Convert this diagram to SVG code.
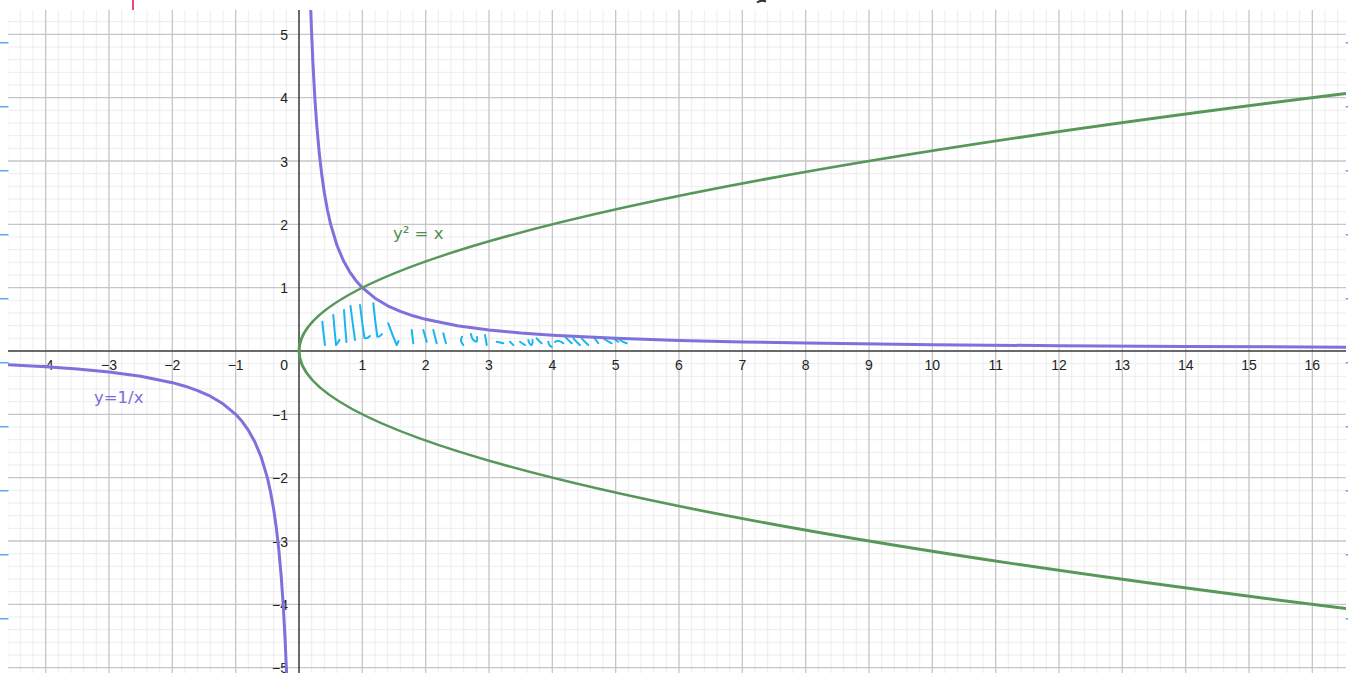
<svg xmlns="http://www.w3.org/2000/svg" width="1348" height="673" viewBox="0 0 1348 673">
<style>
.minor{stroke:#ededed;stroke-width:1;fill:none}
.major{stroke:#c6c6c6;stroke-width:1.3;fill:none}
.axis{stroke:#3a3a3a;stroke-width:1.5;fill:none}
.tick{stroke:#5aaaf0;stroke-width:1.5}
.lbl{font-family:"Liberation Sans",Arial,sans-serif;font-size:14px;fill:#222}
.lx{text-anchor:middle}
.ly{text-anchor:end}
.purple{stroke:#7f70dc;stroke-width:3;fill:none;stroke-linejoin:round;stroke-linecap:round}
.green{stroke:#57985a;stroke-width:3;fill:none}
.hatch{stroke:#19b4f2;stroke-width:2;fill:none;stroke-linecap:round;stroke-linejoin:round}
.clbl{font-family:"DejaVu Sans",sans-serif;font-size:16.5px}
</style>
<defs>
<clipPath id="plot"><rect x="8" y="10" width="1338" height="663"/></clipPath>
</defs>
<rect width="1348" height="673" fill="#ffffff"/>
<g id="grid" clip-path="url(#plot)">
<path class="minor" d="M7.67 10V673M20.33 10V673M33 10V673M58.33 10V673M71 10V673M83.67 10V673M96.33 10V673M121.67 10V673M134.33 10V673M147 10V673M159.67 10V673M185 10V673M197.67 10V673M210.33 10V673M223 10V673M248.33 10V673M261 10V673M273.67 10V673M286.33 10V673M311.67 10V673M324.33 10V673M337 10V673M349.67 10V673M375 10V673M387.67 10V673M400.33 10V673M413 10V673M438.33 10V673M451 10V673M463.67 10V673M476.33 10V673M501.67 10V673M514.33 10V673M527 10V673M539.67 10V673M565 10V673M577.67 10V673M590.33 10V673M603 10V673M628.33 10V673M641 10V673M653.67 10V673M666.33 10V673M691.67 10V673M704.33 10V673M717 10V673M729.67 10V673M755 10V673M767.67 10V673M780.33 10V673M793 10V673M818.33 10V673M831 10V673M843.67 10V673M856.33 10V673M881.67 10V673M894.33 10V673M907 10V673M919.67 10V673M945 10V673M957.67 10V673M970.33 10V673M983 10V673M1008.33 10V673M1021 10V673M1033.67 10V673M1046.33 10V673M1071.67 10V673M1084.33 10V673M1097 10V673M1109.67 10V673M1135 10V673M1147.67 10V673M1160.33 10V673M1173 10V673M1198.33 10V673M1211 10V673M1223.67 10V673M1236.33 10V673M1261.67 10V673M1274.33 10V673M1287 10V673M1299.67 10V673M1325 10V673M1337.67 10V673"/>
<path class="minor" d="M8 21.67H1346M8 47H1346M8 59.67H1346M8 72.33H1346M8 85H1346M8 110.33H1346M8 123H1346M8 135.67H1346M8 148.33H1346M8 173.67H1346M8 186.33H1346M8 199H1346M8 211.67H1346M8 237H1346M8 249.67H1346M8 262.33H1346M8 275H1346M8 300.33H1346M8 313H1346M8 325.67H1346M8 338.33H1346M8 363.67H1346M8 376.33H1346M8 389H1346M8 401.67H1346M8 427H1346M8 439.67H1346M8 452.33H1346M8 465H1346M8 490.33H1346M8 503H1346M8 515.67H1346M8 528.33H1346M8 553.67H1346M8 566.33H1346M8 579H1346M8 591.67H1346M8 617H1346M8 629.67H1346M8 642.33H1346M8 655H1346"/>
<path class="major" d="M45.67 10V673M109 10V673M172.33 10V673M235.67 10V673M362.33 10V673M425.67 10V673M489 10V673M552.33 10V673M615.67 10V673M679 10V673M742.33 10V673M805.67 10V673M869 10V673M932.33 10V673M995.67 10V673M1059 10V673M1122.33 10V673M1185.67 10V673M1249 10V673M1312.33 10V673"/>
<path class="major" d="M8 34.33H1346M8 97.67H1346M8 161H1346M8 224.33H1346M8 287.67H1346M8 414.33H1346M8 477.67H1346M8 541H1346M8 604.33H1346M8 667.67H1346"/>
</g>
<g id="axes">
<path class="axis" d="M8 351H1346M299 10V673"/>
</g>
<g id="ticks-left">
<path class="tick" d="M0 42.7H8.5M0 106.7H8.5M0 170.7H8.5M0 234.7H8.5M0 298.7H8.5M0 362.7H8.5M0 426.7H8.5M0 490.7H8.5M0 554.7H8.5M0 618.7H8.5"/>
</g>
<g id="ticks-right">
<path class="tick" d="M1345.7 42.7H1348M1345.7 106.7H1348M1345.7 170.7H1348M1345.7 234.7H1348M1345.7 298.7H1348M1345.7 362.7H1348M1345.7 426.7H1348M1345.7 490.7H1348M1345.7 554.7H1348M1345.7 618.7H1348"/>
</g>
<g id="top-marks">
<path d="M133 0V10" stroke="#e8468c" stroke-width="2"/>
<path d="M757 2.5Q761 -0.5 766 1.5" stroke="#333" stroke-width="2" fill="none"/>
</g>
<g id="x-labels" class="lbl lx">
<text x="45.67" y="370">−4</text>
<text x="109" y="370">−3</text>
<text x="172.33" y="370">−2</text>
<text x="235.67" y="370">−1</text>
<text x="362.33" y="370">1</text>
<text x="425.67" y="370">2</text>
<text x="489" y="370">3</text>
<text x="552.33" y="370">4</text>
<text x="615.67" y="370">5</text>
<text x="679" y="370">6</text>
<text x="742.33" y="370">7</text>
<text x="805.67" y="370">8</text>
<text x="869" y="370">9</text>
<text x="932.33" y="370">10</text>
<text x="995.67" y="370">11</text>
<text x="1059" y="370">12</text>
<text x="1122.33" y="370">13</text>
<text x="1185.67" y="370">14</text>
<text x="1249" y="370">15</text>
<text x="1312.33" y="370">16</text>
</g>
<g id="y-labels" class="lbl ly">
<text x="288" y="370">0</text>
<text x="288" y="40">5</text>
<text x="288" y="103.3">4</text>
<text x="288" y="166.7">3</text>
<text x="288" y="230">2</text>
<text x="288" y="293.3">1</text>
<text x="288" y="420">−1</text>
<text x="288" y="483.3">−2</text>
<text x="288" y="546.7">−3</text>
<text x="288" y="610">−4</text>
<text x="288" y="672.5">−5</text>
</g>
<g id="hatching" class="hatch">
<path d="M322.3 321.7Q323.5 334 325 345"/>
<path d="M333.3 315Q334.5 330 336 345Q338 343 339.5 340"/>
<path d="M344 310Q345 326 346.5 342"/>
<path d="M350.5 306Q352.5 322 355 340"/>
<path d="M360 305Q362 322 364.5 338Q367 339 370 336"/>
<path d="M373.3 303.3Q375 320 377.3 336.7Q380 337 382 334"/>
<path d="M388.3 323.3Q392 334 396.7 345Q398 343 398.5 341"/>
<path d="M411.7 330Q412.5 337 413.3 343.3"/>
<path d="M423.3 330Q425 336 426.7 341.7"/>
<path d="M433.3 330Q435 337 436.7 343.3"/>
<path d="M443.3 333.3Q444.5 338 446 343.3"/>
<path d="M462 336.7Q459.5 341 463.3 345"/>
<path d="M471 334Q472 341 476.7 341.7Q477.5 339 477 337"/>
<path d="M485 335Q486 340 486.7 345"/>
<path d="M496.7 341.7Q500 342.5 503.3 343.3"/>
<path d="M510 341.7Q511.5 343.5 513.3 345"/>
<path d="M520 341.7Q522.5 343.5 525 345"/>
<path d="M528.3 340Q529.5 345 531.7 345Q533 343 532.5 340"/>
<path d="M536.7 338.3Q539 341 541.7 343.3"/>
<path d="M548.3 341.7Q549 346.5 551.7 346.7"/>
<path d="M555 342Q558 339 563.3 343.3"/>
<path d="M565 336.7Q568 340 571.7 343.3"/>
<path d="M573.3 338.3Q576.5 342 580 345"/>
<path d="M581.7 338.3Q585 342 588.3 345"/>
<path d="M593.3 336.7Q596 340 598.3 343.3"/>
<path d="M603.3 338.3Q607 341 611.7 343.3"/>
<path d="M613.3 338.3Q616 340 618.3 341.7"/>
<path d="M620 340Q623 342 626.7 343.3"/>
</g>
<g id="curve-hyperbola" clip-path="url(#plot)">
<path class="purple" d="M310.76 10L311.67 34.35L312.93 63.14L314.83 97.68L316.73 124.82L319.27 153.09L321.8 175.08L324.33 192.67L327.5 210.27L330.67 224.34L337 245.45L343.33 260.53L349.66 271.84L356 280.63L362.33 287.67L375 298.22L387.66 305.76L400.33 311.42L413 315.82L425.66 319.33L457.33 325.67L489 329.89L520.66 332.91L552.32 335.17L615.65 338.33L678.98 340.44L742.31 341.95L805.64 343.08L932.3 344.67L1058.96 345.72L1185.62 346.48L1346 347.17"/>
<path class="purple" d="M8 364.78L45.68 366.83L77.35 369.09L109.01 372.11L140.68 376.33L172.34 382.67L185.01 386.18L197.67 390.58L210.34 396.24L223 403.78L235.67 414.33L242 421.37L248.34 430.16L254.67 441.47L261 456.55L267.34 477.66L270.5 491.73L273.67 509.33L276.2 526.92L278.73 548.91L281.27 577.18L283.17 604.32L285.07 638.86L286.54 673"/>
</g>
<g id="curve-parabola" clip-path="url(#plot)">
<path class="green" d="M1346 93.5Q-748 351 1346 608.5"/>
</g>
<g id="label-parabola">
<text class="clbl" x="393" y="239" fill="#4f8f4f">y² = x</text>
</g>
<g id="label-hyperbola">
<text class="clbl" x="94" y="403" fill="#7d6ddc">y=1/x</text>
</g>
</svg>
